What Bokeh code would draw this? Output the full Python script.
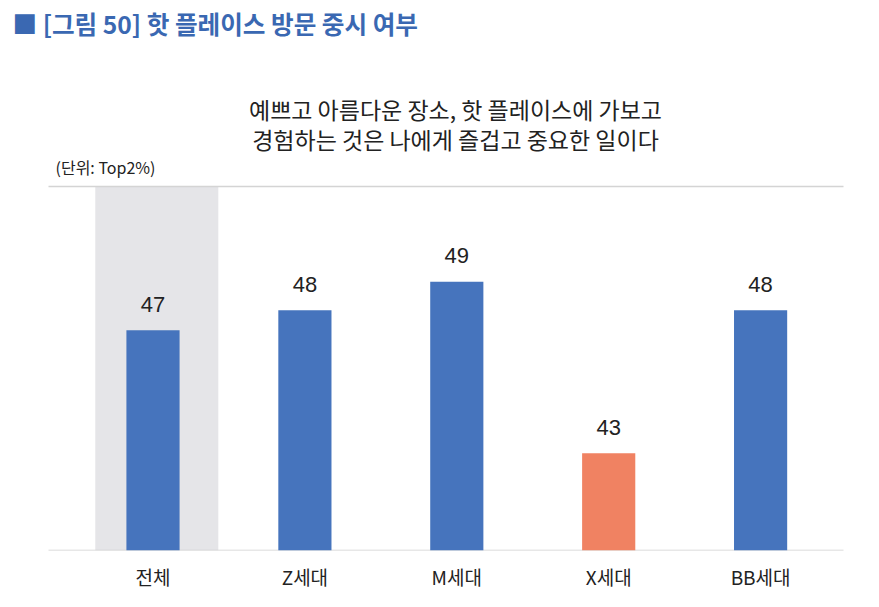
from bokeh.plotting import figure
from bokeh.models import Range1d, FixedTicker, Label, ColumnDataSource
from bokeh.core.properties import value
from bokeh.embed import file_html
from bokeh.resources import INLINE

# ---- data ----
categories = ["전체", "Z세대", "M세대", "X세대", "BB세대"]
values = [47.3, 48.0, 49.0, 43.0, 48.0]
value_labels = ["47", "48", "49", "43", "48"]
bar_colors = ["#4674bd", "#4674bd", "#4674bd", "#f08262", "#4674bd"]
highlight_category = "전체"

title_text = "■ [그림 50] 핫 플레이스 방문 중시 여부"
subtitle_lines = ["예쁘고 아름다운 장소, 핫 플레이스에 가보고",
                  "경험하는 것은 나에게 즐겁고 중요한 일이다"]
unit_text = "(단위: Top2%)"

KR = "Noto Sans CJK KR"

# ---- layout constants (pixels) ----
W, FRAME_H, BOTTOM = 863, 550, 41
CHART_L, CHART_R, CHART_T = 48, 843, 186      # plot-area box on the page
FIRST_CENTER, STEP = 152.5, 151.9             # category spacing in px
y_base, y_grid_top = 39.6, 52.33              # value scale of the plot area
px_per_unit = (FRAME_H - CHART_T) / (y_grid_top - y_base)

x_start = -FIRST_CENTER / STEP
x_end = x_start + W / STEP
y_end = y_grid_top + CHART_T / px_per_unit
chart_x0 = x_start + CHART_L / STEP
chart_x1 = x_start + CHART_R / STEP

xs = list(range(len(categories)))
src = ColumnDataSource(dict(x=xs, top=values, label=value_labels, color=bar_colors))

p = figure(frame_width=W, frame_height=FRAME_H,
           min_border_left=0, min_border_right=0,
           min_border_top=0, min_border_bottom=BOTTOM,
           x_range=Range1d(x_start, x_end), y_range=Range1d(y_base, y_end),
           y_axis_location=None,
           output_backend="svg", toolbar_location=None,
           background_fill_color="white", border_fill_color="white")
p.outline_line_color = None
p.grid.visible = False

# highlight band behind the first category
hi = categories.index(highlight_category)
p.quad(left=[hi - 0.38], right=[hi + 0.43], bottom=[y_base], top=[y_grid_top],
       fill_color="#e5e5e8", line_color=None)

# top grid line and baseline
p.segment(x0=[chart_x0, chart_x0], x1=[chart_x1, chart_x1],
          y0=[y_grid_top, y_base], y1=[y_grid_top, y_base],
          line_color=["#d4d4d4", "#cfcfcf"], line_width=1.3)

p.vbar(x="x", top="top", bottom=y_base, width=0.35, fill_color="color",
       line_color=None, source=src)

p.text(x="x", y="top", text="label", source=src, text_align="center",
       text_baseline="alphabetic", y_offset=-26,
       text_font=value("Liberation Sans"), text_font_size="22px",
       text_color="#222222")

ax = p.xaxis[0]
ax.ticker = FixedTicker(ticks=xs)
ax.major_label_overrides = {i: c for i, c in enumerate(categories)}
ax.axis_line_color = None
ax.major_tick_line_color = None
ax.minor_tick_line_color = None
ax.major_label_standoff = 6
ax.major_label_text_font = KR
ax.major_label_text_font_size = "19px"
ax.major_label_text_color = "#222222"

def add_text(txt, px, py, size, color, style="normal", align="left"):
    p.add_layout(Label(x=px, y=FRAME_H - py, x_units="screen", y_units="screen",
                       text=txt, text_font=KR, text_font_size=size,
                       text_color=color, text_font_style=style,
                       text_align=align, text_baseline="middle"))

add_text(title_text, 12, 22, "24.6px", "#3a68b2", style="bold")
add_text(subtitle_lines[0], 455, 108, "23px", "#222222", align="center")
add_text(subtitle_lines[1], 455, 138, "23px", "#222222", align="center")
add_text(unit_text, 55, 166, "16px", "#222222")

open("out.html", "w").write(file_html(p, INLINE))
